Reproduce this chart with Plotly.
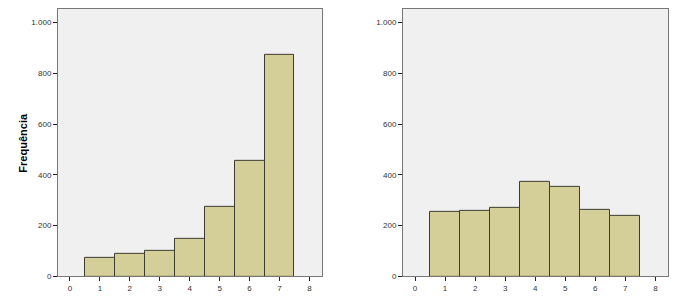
import plotly.graph_objects as go

categories = [1, 2, 3, 4, 5, 6, 7]
left_freq = [72, 88, 100, 147, 274, 455, 873]
right_freq = [254, 259, 271, 373, 351, 261, 240]
x_ticks = [0, 1, 2, 3, 4, 5, 6, 7, 8]
y_ticks = [0, 200, 400, 600, 800, 1000]
y_ticklabels = ["0", "200", "400", "600", "800", "1.000"]
y_title = "Frequência"

bar_fill = "#d4cf98"
bar_line = "#3c3c30"
frame = "#777777"

fig = go.Figure()
fig.add_trace(go.Bar(x=categories, y=left_freq, width=1, marker=dict(color=bar_fill, line=dict(color=bar_line, width=1)),
                     xaxis="x", yaxis="y", showlegend=False))
fig.add_trace(go.Bar(x=categories, y=right_freq, width=1, marker=dict(color=bar_fill, line=dict(color=bar_line, width=1)),
                     xaxis="x2", yaxis="y2", showlegend=False))

W, H = 700, 306
ydom = [1 - 281 / H, 1 - 9 / H]
tick_font = dict(family="Arial, Liberation Sans", size=8, color="#333")

def xa(dom, anchor):
    return dict(domain=dom, anchor=anchor, range=[-0.4, 8.42], tickvals=x_ticks, ticks="outside", ticklen=4,
                tickcolor="#222", tickwidth=1, showgrid=False, zeroline=False, showline=True, mirror=True,
                linecolor=frame, linewidth=1, tickfont=tick_font, fixedrange=True)

def ya(anchor):
    return dict(domain=ydom, anchor=anchor, range=[0, 1054], tickvals=y_ticks, ticktext=y_ticklabels,
                ticks="outside", ticklen=4, tickcolor="#222", tickwidth=1, showgrid=False, zeroline=False,
                showline=True, mirror=True, linecolor=frame, linewidth=1, tickfont=tick_font, fixedrange=True)

fig.update_layout(
    width=W, height=H,
    margin=dict(l=0, r=0, t=0, b=0),
    paper_bgcolor="white",
    plot_bgcolor="#f0f0f0",
    bargap=0,
    xaxis=xa([58 / W, 322 / W], "y"),
    yaxis=ya("x"),
    xaxis2=xa([403 / W, 668 / W], "y2"),
    yaxis2=ya("x2"),
    annotations=[dict(text="<b>" + y_title + "</b>", xref="paper", yref="paper", x=23 / W, y=1 - 145 / H,
                      xanchor="center", yanchor="middle", textangle=-90, showarrow=False,
                      font=dict(family="Arial, Liberation Sans", size=11, color="#000"))],
)
fig.write_html("out.html")
